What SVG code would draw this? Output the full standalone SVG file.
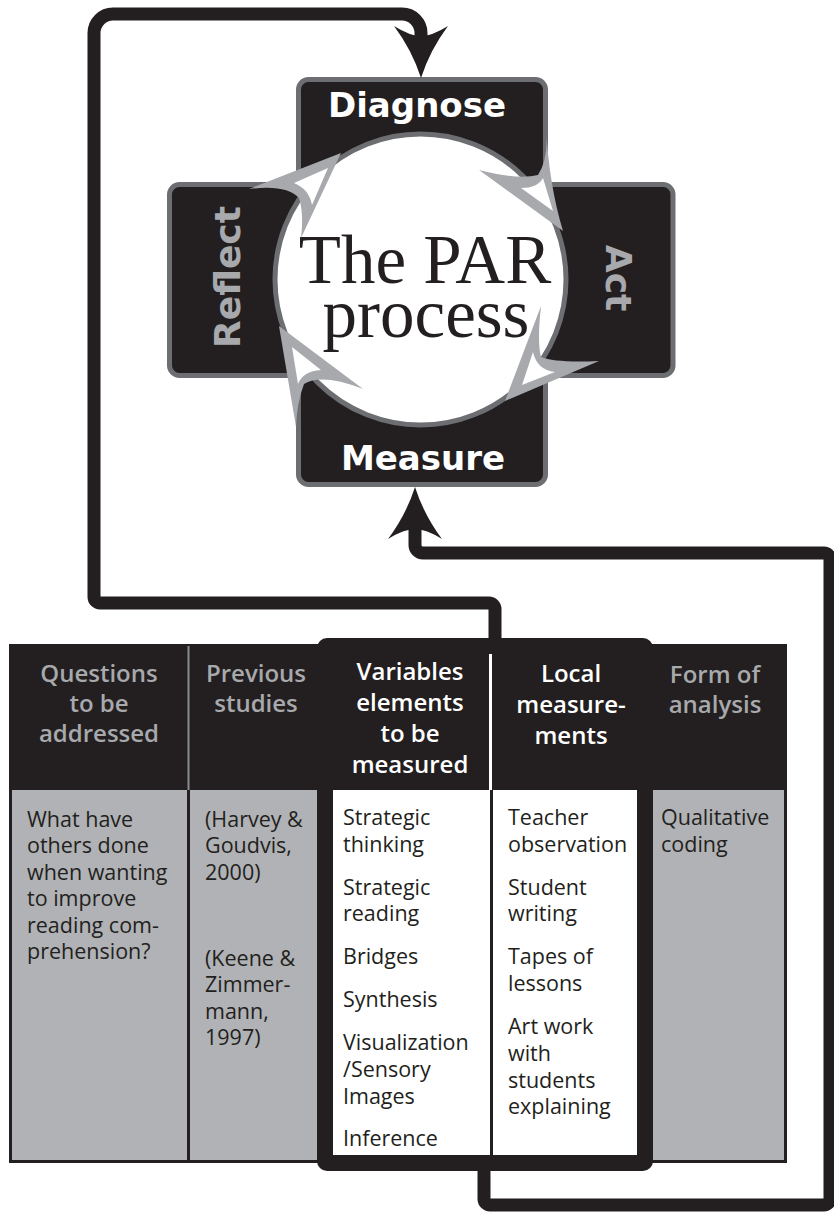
<svg xmlns="http://www.w3.org/2000/svg" width="834" height="1213" viewBox="0 0 834 1213">
<style>
.dk{fill:#231f20}
.conn{fill:none;stroke:#231f20;stroke-width:13;stroke-linejoin:round}
.ah{fill:#231f20}
.cyc-o{fill:#a7a9ac}
.cyc-i{fill:#ffffff}
.lbl{font-family:"DejaVu Sans",Verdana,sans-serif;font-weight:bold;font-size:34px;text-anchor:middle}
.hd{font-family:"Open Sans","Noto Sans",sans-serif;font-weight:600;font-size:24px;text-anchor:middle}
.bd{font-family:"Open Sans","Noto Sans",sans-serif;font-size:21.5px;fill:#231f20}
.gy{fill:#a7a9ac}
.wt{fill:#ffffff}
.cell{fill:#b0b2b5}
</style>
<rect x="0" y="0" width="834" height="1213" fill="#ffffff"/>

<g id="cycle-frame">
<path d="M308.5,79.5 H535.5 A10,10 0 0 1 545.5,89.5 V184.5 H663 A10,10 0 0 1 673,194.5 V365.5 A10,10 0 0 1 663,375.5 H545.5 V474.5 A10,10 0 0 1 535.5,484.5 H308.5 A10,10 0 0 1 298.5,474.5 V375.5 H179.5 A10,10 0 0 1 169.5,365.5 V194.5 A10,10 0 0 1 179.5,184.5 H298.5 V89.5 A10,10 0 0 1 308.5,79.5 Z" fill="#231f20" stroke="#6d6e71" stroke-width="5"/>
</g>

<g id="node-diagnose"><text class="lbl wt" x="417" y="117">Diagnose</text></g>
<g id="node-act"><text class="lbl gy" x="606" y="278" transform="rotate(90 606 278)" style="font-size:36px">Act</text></g>
<g id="node-measure"><text class="lbl wt" x="423" y="470">Measure</text></g>
<g id="node-reflect"><text class="lbl gy" x="240" y="277" transform="rotate(-90 240 277)" style="font-size:36px">Reflect</text></g>

<g id="node-par-process">
<circle cx="420.5" cy="279.5" r="145.5" fill="#ffffff" stroke="#6d6e71" stroke-width="5"/>
<text x="425" y="283" font-family="'Liberation Serif','Times New Roman',serif" font-size="69" fill="#231f20" text-anchor="middle">The PAR</text>
<text x="426" y="337" font-family="'Liberation Serif','Times New Roman',serif" font-size="69" fill="#231f20" text-anchor="middle">process</text>
</g>

<g id="cycle-arrows">
<path class="cyc-o" d="M341,153 L249,189 Q286,184 299,198 Q304,214 301,238 Z"/>
<path class="cyc-i" d="M328,168 L294,183 Q309,189 312,205 Z"/>
<path class="cyc-o" d="M563,231 L479,170 Q518,180 538,175 Q549,158 546,127 Q549,185 563,231 Z"/>
<path class="cyc-i" d="M553,211 L521,188 Q538,188 543,178 Z"/>
<path class="cyc-o" d="M505,401 L541,306 Q537,342 541,357 Q556,363 599,361 Z"/>
<path class="cyc-i" d="M522,385 L533,352 Q537,370 555,372 Z"/>
<path class="cyc-o" d="M279,326 L363,389 Q322,373 304,384 Q297,402 296,427 Z"/>
<path class="cyc-i" d="M292,347 L321,370 Q303,371 298,384 Z"/>
</g>

<g id="connectors">
<path class="conn" d="M495,640 V609 A6,6 0 0 0 489,603 H100 A6,6 0 0 1 94,597 V33 A19,19 0 0 1 113,14 H402 A19,19 0 0 1 421,33 V40"/>
<path class="ah" d="M421,78 Q412,50 394,26 Q410,36 421,36 Q432,36 448,26 Q430,50 421,78 Z"/>
<path class="conn" d="M484,1168 V1199 A6,6 0 0 0 490,1205 H824 A6,6 0 0 0 830,1199 V559 A6,6 0 0 0 824,553 H423 A8,8 0 0 1 415,545 V528"/>
<path class="ah" d="M415,487 Q406,515 388,539 Q404,529 415,529 Q426,529 442,539 Q424,515 415,487 Z"/>
</g>

<g id="table">
<rect class="dk" x="9" y="644" width="778" height="519"/>
<rect class="cell" x="12" y="790" width="175" height="370"/>
<rect class="cell" x="190" y="790" width="127" height="370"/>
<rect class="cell" x="653" y="790" width="131" height="370"/>
<rect x="187.5" y="646" width="2" height="144" fill="#8a8c8f"/>
<rect class="dk" x="317" y="638" width="336" height="533" rx="10"/>
<rect class="wt" x="333" y="790" width="304" height="365"/>
<rect class="dk" x="490" y="790" width="3" height="365"/>
<rect class="wt" x="489" y="654" width="3" height="136"/>
</g>

<g id="col-questions">
<text class="hd gy"><tspan x="99" y="682">Questions</tspan><tspan x="99" y="712">to be</tspan><tspan x="99" y="742">addressed</tspan></text>
<text class="bd"><tspan x="27" y="827">What have</tspan><tspan x="27" y="853">others done</tspan><tspan x="27" y="880">when wanting</tspan><tspan x="27" y="906">to improve</tspan><tspan x="27" y="933">reading com-</tspan><tspan x="27" y="959">prehension?</tspan></text>
</g>

<g id="col-previous">
<text class="hd gy"><tspan x="256" y="682">Previous</tspan><tspan x="256" y="712">studies</tspan></text>
<text class="bd"><tspan x="205" y="827">(Harvey &amp;</tspan><tspan x="205" y="853">Goudvis,</tspan><tspan x="205" y="880">2000)</tspan><tspan x="205" y="966">(Keene &amp;</tspan><tspan x="205" y="992">Zimmer-</tspan><tspan x="205" y="1019">mann,</tspan><tspan x="205" y="1045">1997)</tspan></text>
</g>

<g id="col-variables">
<text class="hd wt"><tspan x="410" y="680">Variables</tspan><tspan x="410" y="711">elements</tspan><tspan x="410" y="742">to be</tspan><tspan x="410" y="773">measured</tspan></text>
<text class="bd"><tspan x="343" y="825">Strategic</tspan><tspan x="343" y="852">thinking</tspan><tspan x="343" y="895">Strategic</tspan><tspan x="343" y="921">reading</tspan><tspan x="343" y="964">Bridges</tspan><tspan x="343" y="1007">Synthesis</tspan><tspan x="343" y="1050">Visualization</tspan><tspan x="343" y="1077">/Sensory</tspan><tspan x="343" y="1104">Images</tspan><tspan x="343" y="1146">Inference</tspan></text>
</g>

<g id="col-local">
<text class="hd wt"><tspan x="571" y="682">Local</tspan><tspan x="571" y="713">measure-</tspan><tspan x="571" y="744">ments</tspan></text>
<text class="bd"><tspan x="508" y="825">Teacher</tspan><tspan x="508" y="852">observation</tspan><tspan x="508" y="895">Student</tspan><tspan x="508" y="921">writing</tspan><tspan x="508" y="964">Tapes of</tspan><tspan x="508" y="991">lessons</tspan><tspan x="508" y="1034">Art work</tspan><tspan x="508" y="1061">with</tspan><tspan x="508" y="1088">students</tspan><tspan x="508" y="1114">explaining</tspan></text>
</g>

<g id="col-analysis">
<text class="hd gy"><tspan x="715" y="683">Form of</tspan><tspan x="715" y="713">analysis</tspan></text>
<text class="bd"><tspan x="661" y="825">Qualitative</tspan><tspan x="661" y="852">coding</tspan></text>
</g>
</svg>
